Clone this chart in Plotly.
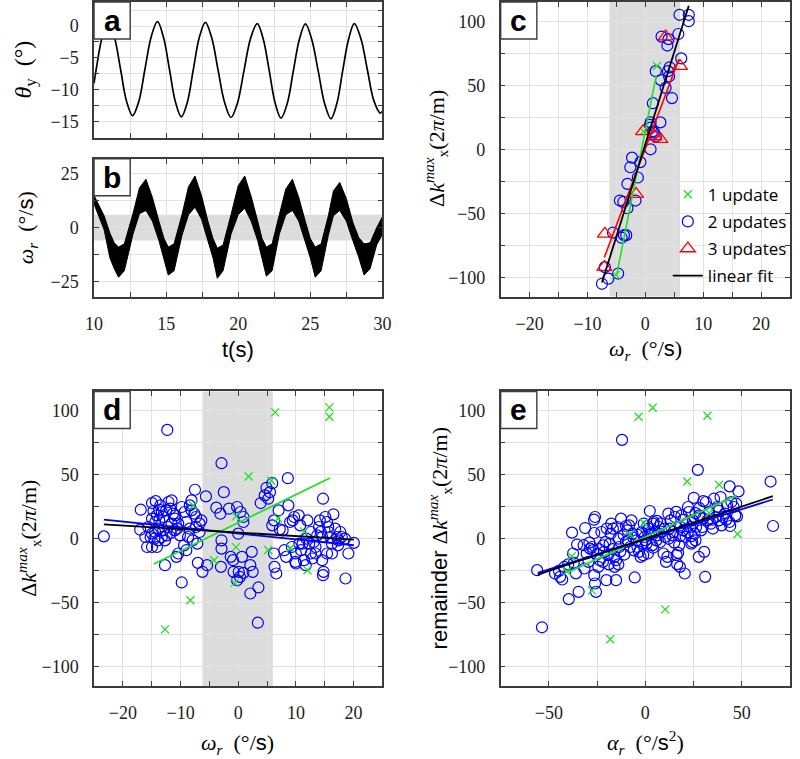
import plotly.graph_objects as go

# ---------------- panel a : theta_y(t) ----------------
t_a = [10.0, 10.15, 10.58, 11.0, 11.42, 11.84, 12.25, 12.67, 13.1, 13.53, 13.96, 14.4,
       14.82, 15.23, 15.64, 16.05, 16.47, 16.88, 17.3, 17.72, 18.17, 18.6, 19.05, 19.5,
       19.95, 20.4, 20.86, 21.32, 21.73, 22.15, 22.56, 22.97, 23.4, 23.82, 24.24, 24.66,
       25.1, 25.55, 25.99, 26.43, 26.84, 27.24, 27.65, 28.05, 28.5, 28.95, 29.4, 29.85, 30.0]
theta_a = [-9.0, -6.8, -1.6, 0.6, -1.8, -6.8, -11.8, -14.1, -11.9, -6.8, -1.7, 0.7,
           -1.8, -6.8, -11.9, -14.3, -12.0, -6.9, -1.8, 0.6, -1.9, -6.9, -12.0, -14.4,
           -12.1, -7.0, -1.9, 0.4, -2.0, -7.0, -12.1, -14.5, -12.2, -7.1, -2.1, 0.35,
           -2.1, -7.1, -12.2, -14.6, -12.2, -7.1, -2.1, 0.4, -1.9, -6.8, -11.7, -13.7, -13.4]

# ---------------- panel b : omega_r(t) noisy band (upper / lower envelope) ----------------
t_b = [10.0, 10.35, 10.7, 11.1, 11.4, 11.7, 12.1, 12.7, 13.15, 13.6, 14.05, 14.5, 14.85,
       15.15, 15.55, 16.1, 16.55, 17.0, 17.45, 17.9, 18.25, 18.55, 18.95, 19.5, 20.0,
       20.45, 20.9, 21.35, 21.65, 21.95, 22.35, 22.85, 23.3, 23.76, 24.2, 24.65, 25.0,
       25.34, 25.75, 26.25, 26.6, 27.04, 27.5, 27.95, 28.35, 28.73, 29.15, 29.6, 30.0]
omega_up = [15, 10, 5.5, -2.5, -7, -9, -7.5, 6.5, 18.5, 22.5, 14, 3, -5,
            -9, -7.5, 6, 19, 24, 15, 3, -5, -9.5, -8, 6, 19.5,
            24, 14.5, 3, -5, -9, -7.5, 6, 18, 22.5, 14, 3, -5,
            -9, -7.5, 5.5, 17, 21, 13.5, 2.5, -4.5, -7.5, -7, 0, 5]
omega_lo = [11, 4.5, -1, -14, -19, -23, -20, -3, 6.5, 8, 3, -6, -14,
            -22, -20, -3.5, 6, 9.5, 4, -6, -14, -23.5, -20, -3, 6,
            9, 3, -6, -14, -22.5, -20, -3, 6, 8, 3, -6, -14,
            -23, -20, -3.5, 5.5, 8, 3, -6, -13.5, -22, -19, -8, -3]
omega_band = [-6.0, 6.0]          # grey band (deg/s)

# ---------------- panel c ----------------
c_1upd = [(2.0, 65), (-5.1, -98), (-0.3, 14)]
c_2upd = [(5.9, 105), (7.5, 105), (7.5, 100), (5.7, 90), (2.8, 88), (4.0, 86), (3.8, 81),
          (6.2, 71), (1.8, 61), (4.2, 64), (3.9, 61), (4.1, 57), (4.6, 40), (2.7, 54),
          (3.5, 48), (1.3, 36), (0.9, 21), (2.6, 21), (1.0, 17), (1.5, 13), (1.8, 10),
          (0.9, 0), (-0.85, -10), (-2.3, -6.5), (-2.6, -14), (-1.3, -22), (-3.1, -27),
          (-3.1, -46), (-4.4, -40), (-3.8, -41), (-1.7, -40), (-5.6, -65), (-3.7, -67),
          (-4.1, -69), (-3.3, -67), (-7.0, -92), (-6.4, -101), (-7.5, -105), (-4.7, -97),
          (0.8, 19), (1.3, 14)]
c_3upd = [(3.5, 88), (6.0, 65), (-0.4, 14), (1.6, 10), (2.6, 8), (-1.6, -35), (-7.0, -66),
          (-7.1, -92)]
# linear fits: (slope, intercept, x_start, x_end)
c_fit_all = (14.4, 4.0, -7.5, 7.5)
c_fit_1 = (22.75, 14.8, -5.0, 1.9)
c_fit_3 = (12.0, 0.7, -7.1, 5.8)
wr_band = [-6.2, 6.0]

# ---------------- panel d ----------------
d_1upd = [(6.4, 98.7), (15.8, 102.6), (15.8, 95.3), (1.8, 48.6), (5.75, 45.3), (6.9, 16),
          (11.4, 5.8), (5.2, -8.7), (12.0, -24.5), (9.05, -7.2), (-7.8, 26), (-12.7, -70.7),
          (-8.3, -48), (-4.2, -16.7), (-0.6, -34.4), (-0.4, 17.5), (-0.4, -6.5)]
d_2upd = [(-23.3, 1.9), (-12.3, 85), (-16.9, 22.7), (-17.0, 7.1), (-14.95, 27.9), (-14.3, 29.4),
          (-13.5, 26.1), (-13.7, 22.7), (-13.25, 20.9), (-14.7, 21.7), (-14.1, 18.3),
          (-14.95, 15.7), (-14.4, 13.1), (-13.7, 14.4), (-13.0, 17), (-12.5, 22.2),
          (-12.1, 28.7), (-11.55, 30), (-11.8, 23.5), (-11.3, 19.6), (-11.0, 15.7),
          (-11.55, 11.8), (-12.2, 9.2), (-13.0, 6.6), (-13.8, 7.9), (-14.4, 5.3), (-14.95, 4.0),
          (-15.2, 1.4), (-14.55, 0.1), (-13.9, -1.2), (-13.25, 1.4), (-12.7, -1.2), (-12.4, 2.7),
          (-11.7, 4.5), (-11.0, 6.6), (-10.6, 7.9), (-10.4, 11.8), (-10.9, 18.3), (-10.1, 2.7),
          (-9.8, 24.8), (-9.3, 20.9), (-9.0, 13.1), (-8.4, 7.9), (-8.7, 1.4), (-9.4, -5.1),
          (-9.0, -8.9), (-10.4, -11.5), (-10.7, -14.1), (-8.1, 22.2), (-7.6, 19.6), (-7.3, 17),
          (-8.1, 30), (-8.4, 26.1), (-7.5, 38.3), (-7.3, 9.2), (-6.7, 11.8), (-6.4, 14.4),
          (-6.7, 5.3), (-7.9, -1.2), (-7.1, -3.8), (-7.0, -18.8), (-5.4, -20.6), (-5.6, 33.1),
          (-6.2, -25.8), (-9.8, -34.1), (-12.7, -20.6), (-15.8, -6.4), (-16.1, 1.4),
          (-15.6, 9.2), (-14.95, -6.4), (-14.1, -6.4),
          (-3.8, 24.3), (-2.9, 59), (-2.5, 36.4), (-3.1, 19.6), (-2.9, -1.2), (-2.9, -7.7),
          (-3.0, -21.9), (-1.6, 23.5), (-1.3, -14.1), (-0.9, -16.7), (-0.8, -25.8), (-0.2, 24.8),
          (0.0, 4.0), (0.4, 20.9), (0.9, 17), (0.9, 13.1), (0.65, -14.1), (0.3, -29.7),
          (-0.2, -32.3), (0.1, -25.8), (0.9, -26.6), (2.1, -20.6), (2.35, -10.2), (2.5, -25.8),
          (2.1, -42.7), (3.5, -38), (3.4, -65.5), (3.9, 27.9), (4.6, 33.9), (4.9, 39.8),
          (5.2, 31.3), (5.5, 36.4), (5.9, 43.4), (6.2, 14.4),
          (5.9, 10.5), (6.2, -11.5), (6.3, -21.9), (6.6, -27.1), (7.0, 22.2), (7.2, 7.4),
          (7.7, 6.6), (8.0, -8.9), (8.3, -14.1), (8.6, 47.3), (8.7, 26.1), (9.0, 13.1),
          (9.3, -6.4), (9.45, 14.4), (9.7, 17), (9.9, -18), (10.0, -19.3), (10.5, 18.3),
          (10.75, 10.5), (10.9, -8.9), (11.15, -3.8), (11.4, -16.7), (11.7, -20.6), (12.0, 14.4),
          (12.3, -3.8), (12.6, -11.5), (12.85, -15.4), (13.1, -2.5), (13.4, -6.4), (13.7, 2.7),
          (14.0, 9.2), (14.15, 14.4), (14.3, 5.3), (14.55, 1.4), (14.7, 31.3), (14.7, -28.4),
          (14.8, -25.8), (15.1, 17), (15.4, 13.1), (15.6, 9.2), (15.7, 5.3), (16.0, 1.4),
          (16.25, -3.8), (16.5, 19.1), (16.25, -11.5), (16.8, 7.9), (17.1, 1.4), (17.4, -1.2),
          (17.7, 5.3), (17.95, 1.4), (18.5, 0.1), (19.1, -11.5), (20.05, -3.2), (18.6, -31),
          (17.3, -5.1), (13.4, -11.5), (15.4, -11.5), (14.55, -16.7), (12.6, 5.3), (11.8, 0.1),
          (10.6, -3.8), (10.0, -11.5)]
d_fit_all = (-0.276, 4.87, -23.3, 20.05)
d_fit_2 = (-0.461, 4.2, -23.3, 20.05)
d_fit_1 = (2.2, 12.5, -14.65, 15.9)

# ---------------- panel e ----------------
e_1upd = [(-3.5, 95.3), (3.8, 102.3), (32.2, 96.1), (21.7, 44.7), (38.2, 42.2), (47.8, 3.7),
          (10.3, -55.1), (-18.2, -78.4), (-38.2, -13.6), (-27.7, -40.3), (-40.7, -25.3),
          (-8.0, 3.3), (33.1, 20.1), (-0.8, 12.3)]
e_2upd = [(-56.1, -24.5), (-53.6, -69.1), (-46.8, -27.1), (-44.8, -25.0), (-43.1, -31.8),
          (-44.2, -29.7), (-39.7, -47.1), (-38.0, 4.8), (-37.5, -11.5), (-37.1, -18.8),
          (-35.4, -4.5), (-34.6, -41.4), (-31.2, 8.4), (-31.6, -23.2), (-30.4, -11.5),
          (-29.5, -18.0), (-28.7, -7.7), (-27.8, -6.4), (-27.0, -8.9), (-26.6, 14.9),
          (-26.1, 17.0), (-26.5, 4.5), (-26.1, -34.9), (-26.5, -28.4), (-25.6, -41.4),
          (-24.4, -21.9), (-23.6, -16.7), (-22.8, 5.3), (-21.9, -5.1), (-21.4, -10.2),
          (-20.7, -2.5), (-20.2, -32.3), (-19.4, -12.8), (-18.5, -3.8), (-18.0, 4.0),
          (-17.7, 11.8), (-16.8, 7.9), (-16.0, -14.1), (-15.2, -16.7), (-15.2, -32.3),
          (-16.0, -21.9), (-14.6, 9.2), (-14.0, 0.1), (-13.5, -6.4), (-12.6, 15.7),
          (-12.1, 77.2), (-11.3, 3.2), (-10.9, -12.3), (-10.1, -2.5), (-9.2, 6.6), (-8.4, 10.5),
          (-7.9, -6.4), (-7.2, 14.4), (-6.7, 4.0), (-6.2, 0.9), (-5.5, -30.2), (-4.5, -1.2),
          (-4.1, -6.4), (-3.3, -10.2), (-2.5, -14.1), (-1.6, -3.8), (-1.1, -12.8), (-0.8, 11.8),
          (-0.4, 1.4), (0.1, -1.2), (0.6, -3.8), (1.3, -11.5), (1.8, 7.9), (2.3, 21.7),
          (3.0, 4.0), (3.5, -5.1), (4.0, 11.8), (4.3, 13.1), (5.2, 5.3), (5.7, -1.2), (6.0, 2.7),
          (6.9, 9.2), (7.7, -2.5), (8.5, 5.3), (9.4, -11.5), (10.2, 1.4), (10.7, -18.0),
          (11.4, -14.1), (11.9, 19.6), (12.4, 7.9), (13.1, 14.4), (14.1, 2.7), (14.5, 5.3),
          (15.3, 17.0), (16.2, -12.8), (16.5, -19.8), (17.0, -11.0), (17.5, -5.1), (17.9, -21.9),
          (18.2, 9.2), (18.7, 18.3), (19.5, 6.6), (20.4, -27.1), (20.9, 1.4), (21.2, 11.8),
          (22.1, 24.8), (22.6, 20.9), (23.3, 9.2), (23.8, -3.8), (24.3, -2.5), (24.6, 14.4),
          (25.1, 32.0), (25.5, 4.0), (26.0, -1.2), (26.3, 9.2), (27.2, 53.8), (27.7, -14.1),
          (28.0, 18.3), (28.3, 17.0), (28.9, 6.6), (29.7, 9.2), (30.0, 29.4), (30.5, -10.2),
          (31.0, -29.7), (31.4, 28.7), (32.2, 14.4), (33.1, 20.9), (33.9, 11.8), (34.8, 14.9),
          (35.6, 31.3), (36.5, 17.0), (37.3, 24.8), (38.2, 14.4), (39.0, 32.6), (39.5, 10.5),
          (40.2, 17.0), (41.2, 19.6), (42.4, 26.1), (43.6, 13.1), (43.7, 40.9), (44.6, 28.7),
          (45.8, 24.8), (46.6, 18.3), (47.1, 27.4), (47.5, 17.5), (48.3, 37.0), (64.9, 44.7),
          (66.2, 10.0),
          (-32.0, -5.0), (-29.0, -3.0), (-24.0, -8.0), (-22.0, -18.0), (-19.0, -20.0),
          (-17.0, -8.0), (-13.0, -10.0), (-9.0, -2.0), (-6.0, -9.0), (-2.0, 5.0), (2.0, 3.0),
          (4.0, -7.0), (8.0, 12.0), (12.0, 0.0), (15.0, -3.0), (18.0, 2.0), (20.0, 15.0),
          (22.0, 5.0), (24.0, 2.0), (26.0, 20.0), (30.0, 16.0), (35.0, 8.0), (38.0, 22.0),
          (42.0, 15.0), (44.0, 10.0), (-40.0, -20.0), (-42.0, -22.0), (-36.0, -27.0),
          (-25.0, -12.0), (-14.0, -20.0), (-10.0, 10.0), (-20.0, 8.0), (10.0, 8.0), (6.0, 14.0),
          (1.0, 10.0), (-4.0, 3.0), (16.0, 21.0), (28.0, 24.0)]
e_fit_all = (0.502, 0.1, -55.8, 66.1)
e_fit_2 = (0.47, -0.4, -55.8, 66.1)
e_fit_1 = (0.685, 1.4, -39.7, 47.4)

# ---------------- styling ----------------
W, H = 800, 759
FRAME = "#3c3c3c"
GRID = "#e2e2e2"
BAND = "#dcdcdc"
BLUE, GREEN, RED = "#0000ff", "#22e022", "#ff0000"
SERIF = "Liberation Serif, Times New Roman, serif"
SANS = "Open Sans, DejaVu Sans, sans-serif"
TICKFONT = dict(family=SERIF, size=18, color="#222222")


def px_dom_x(p0, p1):
    return [p0 / W, p1 / W]


def px_dom_y(top, bottom):
    return [1 - bottom / H, 1 - top / H]


def axis(rng, dtick, minor, domain, anchor, labels=True):
    return dict(range=rng, domain=domain, anchor=anchor, tick0=0, dtick=dtick,
                showline=True, linecolor=FRAME, linewidth=1.6, mirror="ticks",
                ticks="inside", ticklen=5, tickwidth=1.2, tickcolor=FRAME,
                showgrid=True, gridcolor=GRID, gridwidth=1, zeroline=False,
                minor=dict(dtick=minor, ticks="inside", ticklen=5, tickwidth=1.2,
                           tickcolor=FRAME, showgrid=True, gridcolor=GRID, gridwidth=1),
                showticklabels=labels, tickfont=TICKFONT, ticklabelstandoff=10)


XL, XR = 87, 382
X2L, X2R = 503, 799

fig = go.Figure()


def xy(pts):
    return [p[0] for p in pts], [p[1] for p in pts]


def fit_line(fit):
    s, b, x0, x1 = fit
    return [x0, x1], [s * x0 + b, s * x1 + b]


# panel a
fig.add_trace(go.Scatter(x=t_a, y=theta_a, mode="lines", line=dict(color="black", width=1.7, shape="spline"),
                         xaxis="x", yaxis="y", showlegend=False))
# panel b
fig.add_trace(go.Scatter(x=t_b, y=omega_up, mode="lines", line=dict(color="black", width=1),
                         xaxis="x2", yaxis="y2", showlegend=False))
fig.add_trace(go.Scatter(x=t_b, y=omega_lo, mode="lines", line=dict(color="black", width=1),
                         fill="tonexty", fillcolor="black", xaxis="x2", yaxis="y2", showlegend=False))

# panel c
MK2 = dict(symbol="circle-open", size=11, color=BLUE, line=dict(width=1.2, color=BLUE))
MK1 = dict(symbol="x-thin-open", size=8, color=GREEN, line=dict(width=1.3, color=GREEN))
MK3 = dict(symbol="triangle-up-open", size=13, color=RED, line=dict(width=1.3, color=RED))
x, y = xy(c_2upd)
fig.add_trace(go.Scatter(x=x, y=y, mode="markers", marker=MK2, name="2 updates", legendrank=2,
                         legendgroup="g2", xaxis="x3", yaxis="y3"))
x, y = xy(c_1upd)
fig.add_trace(go.Scatter(x=x, y=y, mode="markers", marker=MK1, name="1 update", legendrank=1,
                         legendgroup="g1", xaxis="x3", yaxis="y3"))
x, y = xy(c_3upd)
fig.add_trace(go.Scatter(x=x, y=y, mode="markers", marker=MK3, name="3 updates", legendrank=3,
                         legendgroup="g3", xaxis="x3", yaxis="y3"))
for fit, col in [(c_fit_1, GREEN), (c_fit_3, RED)]:
    x, y = fit_line(fit)
    fig.add_trace(go.Scatter(x=x, y=y, mode="lines", line=dict(color=col, width=1.6),
                             xaxis="x3", yaxis="y3", showlegend=False))
x, y = fit_line(c_fit_all)
fig.add_trace(go.Scatter(x=x, y=y, mode="lines", line=dict(color="black", width=1.8), name="linear fit",
                         legendrank=4, legendgroup="g4", xaxis="x3", yaxis="y3"))

# panel d / e
for xa, ya, p2, p1, f2, f1, fa in [("x4", "y4", d_2upd, d_1upd, d_fit_2, d_fit_1, d_fit_all),
                                   ("x5", "y5", e_2upd, e_1upd, e_fit_2, e_fit_1, e_fit_all)]:
    x, y = xy(p2)
    fig.add_trace(go.Scatter(x=x, y=y, mode="markers", marker=MK2, xaxis=xa, yaxis=ya, showlegend=False))
    x, y = xy(p1)
    fig.add_trace(go.Scatter(x=x, y=y, mode="markers", marker=MK1, xaxis=xa, yaxis=ya, showlegend=False))
    for fit, col in [(f1, GREEN), (f2, BLUE), (fa, "black")]:
        x, y = fit_line(fit)
        fig.add_trace(go.Scatter(x=x, y=y, mode="lines", line=dict(color=col, width=1.8),
                                 xaxis=xa, yaxis=ya, showlegend=False))

shapes = []
# grey bands
shapes.append(dict(type="rect", xref="x2 domain", yref="y2", x0=0, x1=1, y0=omega_band[0], y1=omega_band[1],
                   fillcolor=BAND, line=dict(width=0), layer="below"))
for xa, ya in [("x3", "y3 domain"), ("x4", "y4 domain")]:
    shapes.append(dict(type="rect", xref=xa, yref=ya, x0=wr_band[0], x1=wr_band[1], y0=0, y1=1,
                       fillcolor=BAND, line=dict(width=0), layer="below"))

annotations = []
# panel letters
BOX = 37
panels = [("a", "x", "y", XR - XL, 136), ("b", "x2", "y2", XR - XL, 138), ("c", "x3", "y3", X2R - X2L, 295),
          ("d", "x4", "y4", XR - XL, 295), ("e", "x5", "y5", X2R - X2L, 295)]
for letter, xa, ya, wpx, hpx in panels:
    shapes.append(dict(type="rect", xref=xa + " domain", yref=ya + " domain", x0=0, x1=BOX / wpx,
                       y0=1 - BOX / hpx, y1=1, fillcolor="white", line=dict(color=FRAME, width=1.4),
                       layer="above"))
    annotations.append(dict(xref=xa + " domain", yref=ya + " domain", x=BOX / 2 / wpx, y=1 - BOX / 2 / hpx,
                            text="<b>%s</b>" % letter, showarrow=False, xanchor="center", yanchor="middle",
                            font=dict(family="Liberation Sans, Arial, sans-serif", size=30, color="black")))


def title(text, px, py, angle=0, size=22):
    annotations.append(dict(xref="paper", yref="paper", x=px / W, y=1 - py / H, text=text, showarrow=False,
                            xanchor="center", yanchor="middle", textangle=angle,
                            font=dict(family=SERIF, size=size, color="black")))


S = '<span style="font-family:Liberation Sans">%s</span>'
wr = "<i>ω</i><sub><i>r</i></sub>  (°/" + S % "s" + ")"
dk = "Δ<i>k</i><sup><i>max</i></sup><sub>x</sub>(2<i>π</i>/m)"
title("<i>θ</i><sub>y</sub>  (°)", 16, 69, -90, 24)
title(wr, 18, 227, -90, 22)
title(S % "t(s)", 234, 349, 0, 22)
title(dk, 437, 148, -90, 22)
title(wr, 651, 349, 0, 22)
title(dk, 20, 538, -90, 22)
title(wr, 234, 744, 0, 22)
title(S % "remainder " + dk, 440, 538, -90, 22)
title("<i>α</i><sub><i>r</i></sub>  (°/" + S % "s" + "<sup>2</sup>)", 651, 742, 0, 22)

fig.update_layout(
    width=W, height=H, margin=dict(l=0, r=0, t=0, b=0),
    paper_bgcolor="white", plot_bgcolor="white",
    xaxis=axis([10, 30], 5, 2.5, px_dom_x(XL, XR), "y", labels=False),
    yaxis=axis([-17.6, 3.8], 5, 2.5, px_dom_y(1, 137), "x"),
    xaxis2=axis([10, 30], 5, 2.5, px_dom_x(XL, XR), "y2"),
    yaxis2=axis([-32, 32], 25, 12.5, px_dom_y(158, 296), "x2"),
    xaxis3=axis([-25, 25], 10, 5, px_dom_x(X2L, X2R), "y3"),
    yaxis3=axis([-115, 115], 50, 25, px_dom_y(1, 296), "x3"),
    xaxis4=axis([-25, 25], 10, 5, px_dom_x(XL, XR), "y4"),
    yaxis4=axis([-115, 115], 50, 25, px_dom_y(391, 686), "x4"),
    xaxis5=axis([-75, 75], 50, 25, px_dom_x(X2L, X2R), "y5"),
    yaxis5=axis([-115, 115], 50, 25, px_dom_y(391, 686), "x5"),
    shapes=shapes, annotations=annotations,
    legend=dict(x=674 / W, y=1 - 176 / H, xanchor="left", yanchor="top", bgcolor="rgba(0,0,0,0)",
                traceorder="grouped", tracegroupgap=2,
                font=dict(family=SANS, size=17, color="black"), borderwidth=0, itemwidth=30),
)

fig.write_html("out.html", config={"displayModeBar": False},
               post_script="document.body.style.margin='0';document.body.style.padding='0';"
                           "document.documentElement.style.overflow='hidden';")
